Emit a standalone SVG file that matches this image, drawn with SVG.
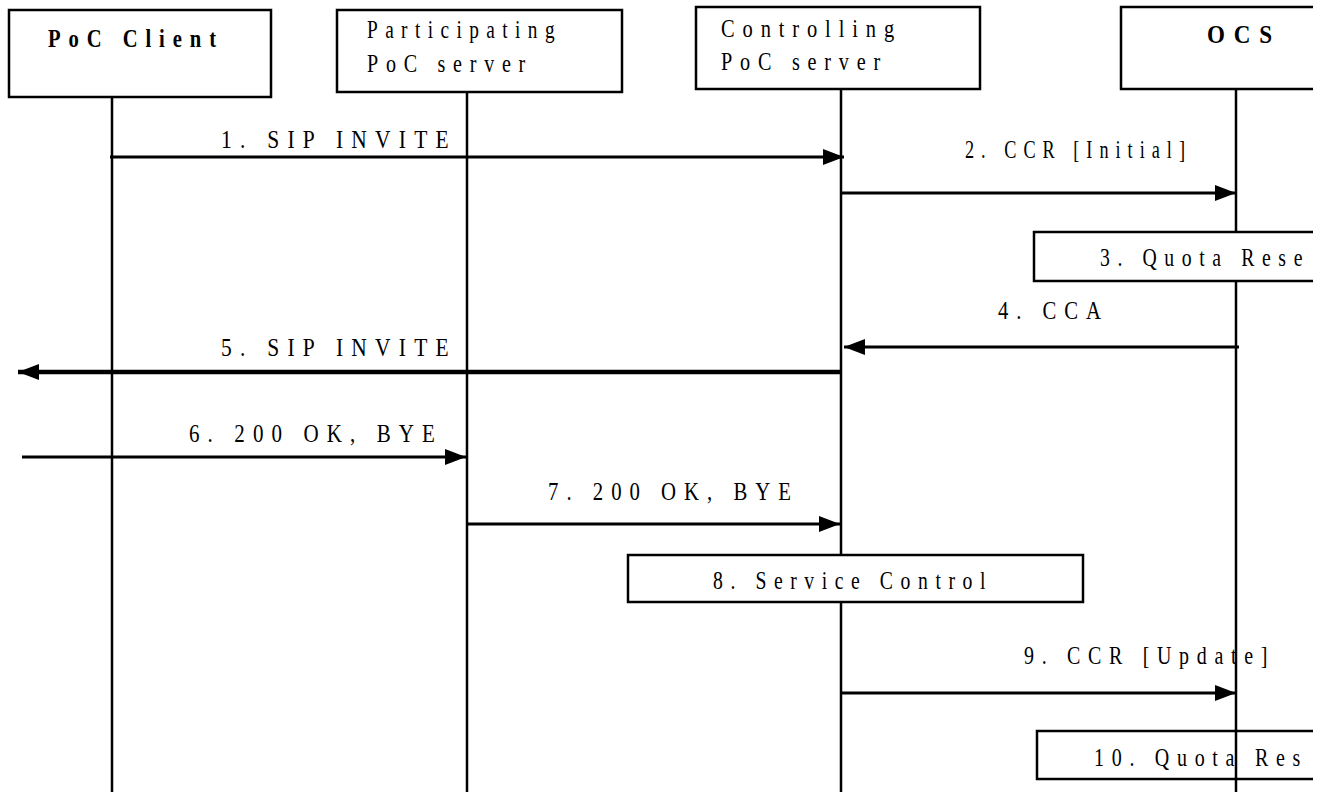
<svg xmlns="http://www.w3.org/2000/svg" width="1323" height="792" viewBox="0 0 1323 792">
<style>
.box{fill:#fff;stroke:#000;stroke-width:2.5}
.open{fill:none;stroke:#000;stroke-width:2.5}
.life{stroke:#000;stroke-width:2.5;fill:none}
.msg{stroke:#000;stroke-width:3;fill:none}
.thick{stroke:#000;stroke-width:4.5;fill:none}
text{font-family:"Liberation Serif","Times New Roman",serif;font-size:26px;fill:#000;letter-spacing:10px}
.b{font-weight:bold}
</style>
<defs>
<marker id="ah" markerUnits="userSpaceOnUse" markerWidth="22" markerHeight="18" refX="21" refY="8" orient="auto">
<path d="M0,0 L21,8 L0,16 z" fill="#000"/>
</marker>
</defs>
<rect width="1323" height="792" fill="#fff"/>
<g id="lifelines">
<line class="life" x1="112" y1="97" x2="112" y2="792"/>
<line class="life" x1="467" y1="92" x2="467" y2="792"/>
<line class="life" x1="841" y1="89" x2="841" y2="792"/>
<line class="life" x1="1236" y1="89" x2="1236" y2="792"/>
</g>
<g id="poc-client">
<rect class="box" x="9" y="10" width="262" height="87"/>
<text class="b" x="48" y="47" textLength="176" lengthAdjust="spacingAndGlyphs">PoC Client</text>
</g>
<g id="participating">
<rect class="box" x="337" y="10" width="285" height="82"/>
<text x="367" y="38" textLength="195" lengthAdjust="spacingAndGlyphs">Participating</text>
<text x="367" y="72" textLength="166" lengthAdjust="spacingAndGlyphs">PoC server</text>
</g>
<g id="controlling">
<rect class="box" x="696" y="7" width="284" height="82"/>
<text x="721" y="37" textLength="181" lengthAdjust="spacingAndGlyphs">Controlling</text>
<text x="721" y="70" textLength="167" lengthAdjust="spacingAndGlyphs">PoC server</text>
</g>
<g id="ocs">
<path class="box" d="M1313,7 H1121 V89 H1313"/>
<text class="b" x="1207" y="43" textLength="74" lengthAdjust="spacingAndGlyphs">OCS</text>
</g>
<g id="connectors">
<line class="msg" x1="110" y1="157" x2="844" y2="157" marker-end="url(#ah)"/>
<line class="msg" x1="841" y1="193" x2="1236" y2="193" marker-end="url(#ah)"/>
<line class="msg" x1="1239" y1="347" x2="844" y2="347" marker-end="url(#ah)"/>
<line class="thick" x1="840" y1="372" x2="18" y2="372" marker-end="url(#ah)"/>
<line class="msg" x1="22" y1="457" x2="466" y2="457" marker-end="url(#ah)"/>
<line class="msg" x1="467" y1="524" x2="840" y2="524" marker-end="url(#ah)"/>
<line class="msg" x1="841" y1="693" x2="1236" y2="693" marker-end="url(#ah)"/>
</g>
<g id="labels">
<text x="221" y="148" textLength="236" lengthAdjust="spacingAndGlyphs">1. SIP  INVITE</text>
<text x="965" y="158" textLength="227" lengthAdjust="spacingAndGlyphs">2. CCR [Initial]</text>
<text x="998" y="319" textLength="111" lengthAdjust="spacingAndGlyphs">4. CCA</text>
<text x="221" y="356" textLength="236" lengthAdjust="spacingAndGlyphs">5. SIP  INVITE</text>
<text x="189" y="442" textLength="254" lengthAdjust="spacingAndGlyphs">6. 200 OK, BYE</text>
<text x="548" y="500" textLength="251" lengthAdjust="spacingAndGlyphs">7. 200 OK, BYE</text>
<text x="1024" y="664" textLength="251" lengthAdjust="spacingAndGlyphs">9. CCR [Update]</text>
</g>
<g id="quota-reservation">
<path class="box" d="M1313,232 H1034 V281 H1313"/>
<text x="1100" y="266" textLength="210" lengthAdjust="spacingAndGlyphs">3. Quota Rese</text>
</g>
<g id="service-control">
<rect class="box" x="628" y="555" width="455" height="47"/>
<text x="713" y="589" textLength="280" lengthAdjust="spacingAndGlyphs">8. Service Control</text>
</g>
<g id="quota-reservation-2">
<path class="open" d="M1313,731 H1037 V779 H1313"/>
<text x="1094" y="766" textLength="214" lengthAdjust="spacingAndGlyphs">10. Quota Res</text>
</g>
</svg>
